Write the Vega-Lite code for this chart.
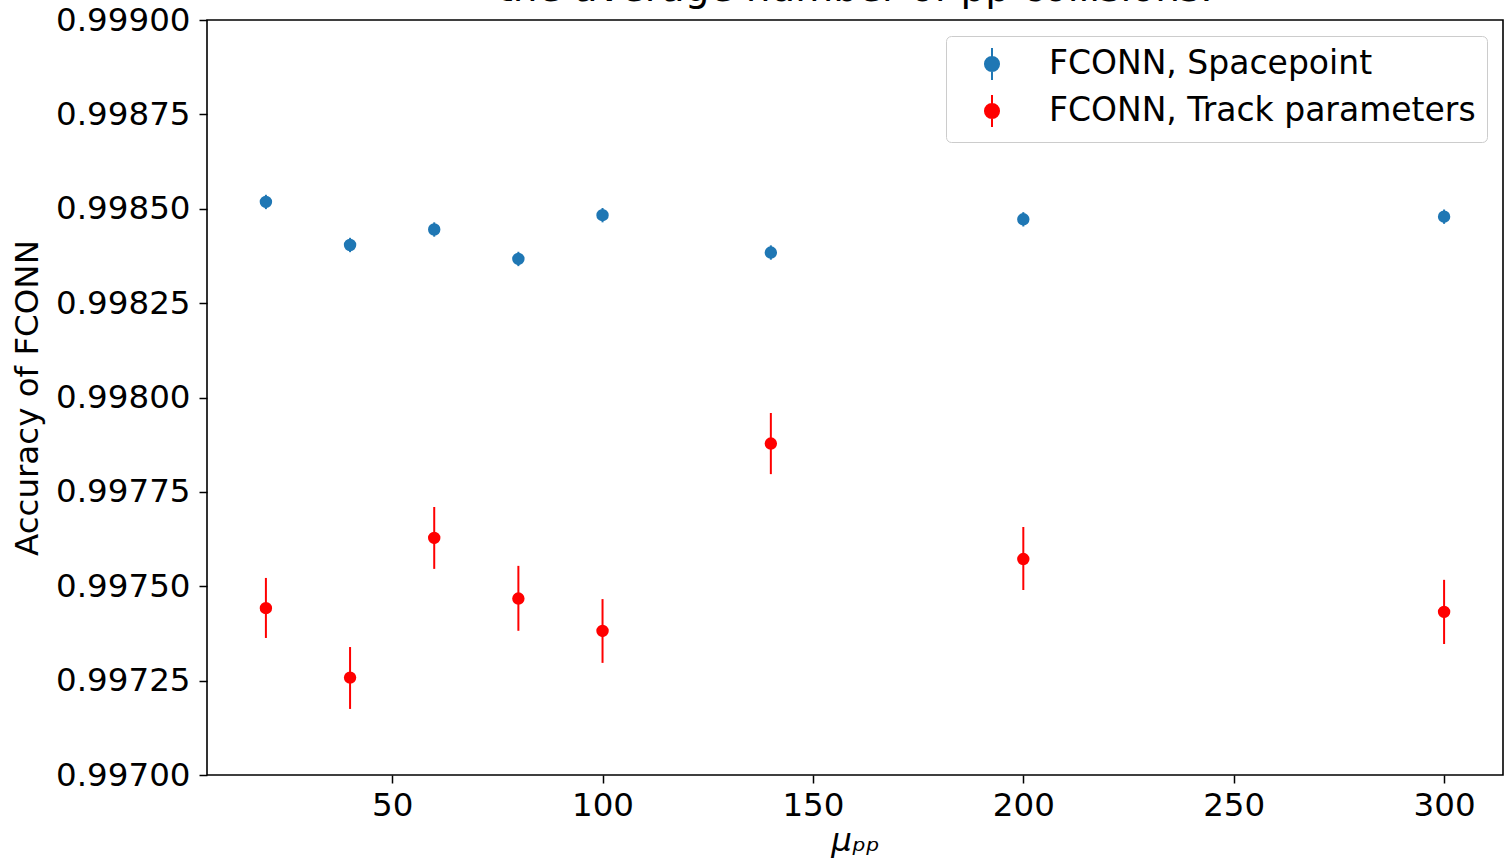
{
  "$schema": "https://vega.github.io/schema/vega-lite/v6.json",
  "autosize": {"type": "none"},
  "padding": {"left": 207, "top": 20, "right": 1, "bottom": 90},
  "width": 1296,
  "height": 755,
  "background": "white",
  "title": {
    "text": "the average number of pp collisions.",
    "frame": "group",
    "anchor": "middle",
    "baseline": "alphabetic",
    "offset": 0,
    "dy": 36,
    "fontSize": 39,
    "fontWeight": 400,
    "font": "DejaVu Sans",
    "color": "black"
  },
  "config": {
    "font": "DejaVu Sans",
    "title": {"fontWeight": 400, "font": "DejaVu Sans"},
    "view": {"stroke": "black", "strokeWidth": 1.6},
    "axis": {
      "grid": false,
      "domain": false,
      "ticks": true,
      "tickSize": 8,
      "tickWidth": 1.5,
      "tickColor": "black",
      "labelFont": "DejaVu Sans",
      "labelFontSize": 32.5,
      "labelColor": "black",
      "titleFont": "DejaVu Sans",
      "titleFontSize": 32.5,
      "titleFontWeight": "normal",
      "titleColor": "black"
    }
  },
  "data": {
    "values": [
      {"mu": 20, "acc": 0.998518, "lo": 0.998499, "hi": 0.998537, "series": "FCONN, Spacepoint"},
      {"mu": 40, "acc": 0.998404, "lo": 0.998385, "hi": 0.998423, "series": "FCONN, Spacepoint"},
      {"mu": 60, "acc": 0.998445, "lo": 0.998426, "hi": 0.998464, "series": "FCONN, Spacepoint"},
      {"mu": 80, "acc": 0.998367, "lo": 0.998348, "hi": 0.998386, "series": "FCONN, Spacepoint"},
      {"mu": 100, "acc": 0.998483, "lo": 0.998464, "hi": 0.998502, "series": "FCONN, Spacepoint"},
      {"mu": 140, "acc": 0.998384, "lo": 0.998365, "hi": 0.998403, "series": "FCONN, Spacepoint"},
      {"mu": 200, "acc": 0.998472, "lo": 0.998453, "hi": 0.998491, "series": "FCONN, Spacepoint"},
      {"mu": 300, "acc": 0.998479, "lo": 0.998460, "hi": 0.998498, "series": "FCONN, Spacepoint"},
      {"mu": 20, "acc": 0.997442, "lo": 0.997363, "hi": 0.997522, "series": "FCONN, Track parameters"},
      {"mu": 40, "acc": 0.997258, "lo": 0.997175, "hi": 0.997339, "series": "FCONN, Track parameters"},
      {"mu": 60, "acc": 0.997628, "lo": 0.997546, "hi": 0.997710, "series": "FCONN, Track parameters"},
      {"mu": 80, "acc": 0.9974675, "lo": 0.997382, "hi": 0.997554, "series": "FCONN, Track parameters"},
      {"mu": 100, "acc": 0.9973815, "lo": 0.997297, "hi": 0.997466, "series": "FCONN, Track parameters"},
      {"mu": 140, "acc": 0.997878, "lo": 0.997797, "hi": 0.997959, "series": "FCONN, Track parameters"},
      {"mu": 200, "acc": 0.997572, "lo": 0.997490, "hi": 0.997657, "series": "FCONN, Track parameters"},
      {"mu": 300, "acc": 0.997432, "lo": 0.997347, "hi": 0.997517, "series": "FCONN, Track parameters"}
    ]
  },
  "encoding": {
    "x": {
      "field": "mu",
      "type": "quantitative",
      "scale": {"domain": [6, 314], "nice": false, "zero": false},
      "axis": {
        "values": [50, 100, 150, 200, 250, 300],
        "labelPadding": 6,
        "title": "μₚₚ",
        "titleFontStyle": "italic",
        "titlePadding": 3
      }
    },
    "color": {
      "field": "series",
      "type": "nominal",
      "scale": {
        "domain": ["FCONN, Spacepoint", "FCONN, Track parameters"],
        "range": ["#1f77b4", "#ff0000"]
      },
      "legend": {
        "title": null,
        "orient": "none",
        "legendX": 739,
        "legendY": 16,
        "padding": 11,
        "fillColor": "white",
        "strokeColor": "#cccccc",
        "cornerRadius": 5,
        "symbolType": "M0,-1L0,1M-0.44,0A0.44,0.44,0,1,1,0.44,0A0.44,0.44,0,1,1,-0.44,0Z",
        "symbolSize": 1024,
        "symbolOffset": 18,
        "symbolStrokeWidth": 2,
        "labelOffset": 40,
        "labelFontSize": 33,
        "labelFont": "DejaVu Sans",
        "labelColor": "black",
        "labelLimit": 0,
        "rowPadding": 7,
        "encode": {
          "symbols": {
            "update": {
              "fill": {"scale": "color", "field": "value"},
              "stroke": {"scale": "color", "field": "value"},
              "strokeWidth": {"value": 2},
              "opacity": {"value": 1}
            }
          }
        }
      }
    }
  },
  "layer": [
    {
      "mark": {"type": "rule", "strokeWidth": 2},
      "encoding": {
        "y": {"field": "lo", "type": "quantitative"},
        "y2": {"field": "hi"}
      }
    },
    {
      "mark": {"type": "point", "filled": true, "shape": "circle", "size": 154, "opacity": 1},
      "encoding": {
        "y": {
          "field": "acc",
          "type": "quantitative",
          "scale": {"domain": [0.997, 0.999], "nice": false, "zero": false},
          "axis": {
            "values": [0.997, 0.99725, 0.9975, 0.99775, 0.998, 0.99825, 0.9985, 0.99875, 0.999],
            "format": ".5f",
            "labelPadding": 9,
            "title": "Accuracy of FCONN",
            "titlePadding": 11
          }
        }
      }
    }
  ]
}
